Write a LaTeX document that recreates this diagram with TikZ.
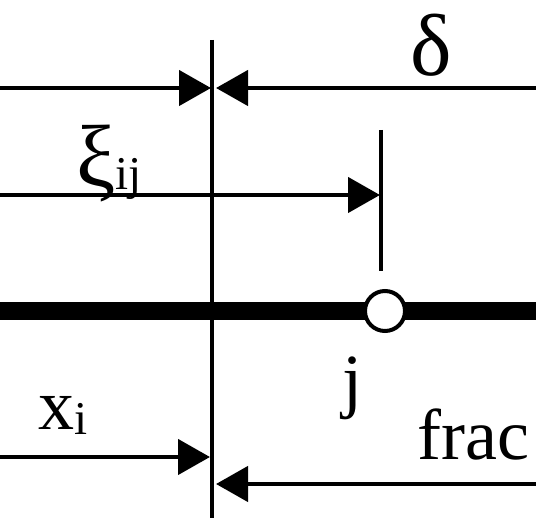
\documentclass[tikz,border=0pt]{standalone}
\usepackage{fontspec}
\setmainfont{Liberation Serif}
\usetikzlibrary{arrows.meta}

\newcommand{\lowsub}[2][-5pt]{\raisebox{#1}{\fontsize{47}{50}\selectfont #2}}

\begin{document}
\begin{tikzpicture}[
  x=1pt, y=-1pt,
  dim/.style={line width=4.5pt, -{Triangle[length=32pt, width=35pt]}},
  rule/.style={line width=4.5pt},
  lbl/.style={inner sep=0pt, anchor=base west, font=\fontsize{72}{80}\selectfont}
]
  \useasboundingbox (0,0) rectangle (536,518);

  % reference axis and tick
  \coordinate (axtop) at (212,40);
  \coordinate (axbot) at (212,518);
  \coordinate (ticktop) at (381,130);
  \coordinate (tickbot) at (381,271);
  \draw[rule] (axtop) -- (axbot);
  \draw[rule] (ticktop) -- (tickbot);

  % bar with node j
  \coordinate (barw) at (0,311);
  \coordinate (bare) at (536,311);
  \draw[line width=18pt] (barw) -- (bare);
  \node[circle, draw, fill=white, line width=4pt, minimum size=40pt,
        inner sep=0pt] (nodej) at (385,311) {};

  % dimension arrows
  \coordinate (top w) at (0,88);
  \coordinate (top l) at (211,88);
  \coordinate (top e) at (536,88);
  \coordinate (top r) at (216,88);
  \draw[dim] (top w) -- (top l);
  \draw[dim] (top e) -- (top r);

  \coordinate (xi w) at (0,195);
  \coordinate (xi e) at (380,195);
  \draw[dim] (xi w) -- (xi e);

  \coordinate (x w) at (0,457);
  \coordinate (x e) at (210,457);
  \draw[dim] (x w) -- (x e);

  \coordinate (frac e) at (536,484);
  \coordinate (frac w) at (216,484);
  \draw[dim] (frac e) -- (frac w);

  % labels
  \node[lbl, font=\fontsize{88}{90}\selectfont] (delta) at (410,76) {δ};
  \node[lbl] (xiij) at (76,187)
    {{\fontsize{88}{90}\selectfont ξ}\lowsub[-3pt]{ij}};
  \node[lbl] (jlab) at (342,405) {j};
  \node[lbl] (xlab) at (38,430) {x\lowsub{i}};
  \node[lbl] (fraclab) at (417,460) {frac};
\end{tikzpicture}
\end{document}
